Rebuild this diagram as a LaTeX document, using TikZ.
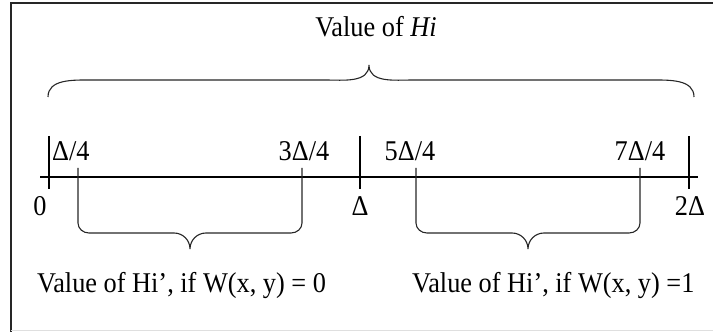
\documentclass[tikz,border=0pt]{standalone}
\usepackage{fontspec}
\setmainfont{Liberation Serif}[FakeStretch=0.92]
\usepackage{tikz}
\usetikzlibrary{positioning}

\begin{document}
\begin{tikzpicture}[x=1pt, y=1pt,
        lbl/.style={inner sep=0pt, font=\fontsize{28.6}{32}\selectfont},
        axis_line/.style={line width=1.3pt, black},
        brace_line/.style={line width=1.1pt, black!85},
        frame_line/.style={line width=2pt, black!85}
    ]
    \useasboundingbox (0,0) rectangle (713,332);

    % frame
    \draw[frame_line] (10.5,0) -- (10.5,328.5) -- (713,328.5);
    \draw[gray!25, line width=1pt] (10.5,1) -- (713,1);

    % positions on the line
    \coordinate (t0) at (49,155);
    \coordinate (q1) at (78,155);
    \coordinate (q3) at (302,155);
    \coordinate (t1) at (360,155);
    \coordinate (q5) at (416,155);
    \coordinate (q7) at (640,155);
    \coordinate (t2) at (689,155);

    % number line and main ticks
    \draw[axis_line] (40,155) -- (698,155);
    \foreach \t in {t0, t1, t2}
        \draw[axis_line] (\t) ++(0,41) -- ++(0,-53);

    % labels above
    \node[lbl, anchor=base west] (lq1) at (52,171.5) {Δ/4};
    \node[lbl, anchor=base] (lq3) at (304,171.5) {3Δ/4};
    \node[lbl, anchor=base] (lq5) at (410,171.5) {5Δ/4};
    \node[lbl, anchor=base] (lq7) at (640,171.5) {7Δ/4};

    % labels below
    \node[lbl, anchor=base] (lt0) at (40,116) {0};
    \node[lbl, anchor=base] (lt1) at (360,116) {Δ};
    \node[lbl, anchor=base] (lt2) at (690,116) {2Δ};

    % upper brace
    \draw[brace_line] (48,235) to[out=90,in=180] (90,252) -- (325,252)
        to[out=0,in=-90] (369,267) to[out=-90,in=180] (413,252) -- (652,252)
        to[out=0,in=90] (694,235);
    \node[lbl, anchor=base] (title) at (376,295) {Value of \textit{Hi}};

    % lower braces, the arms are the quarter ticks
    \foreach \a/\b in {78/302, 416/640} {
        \pgfmathsetmacro\m{(\a+\b)/2}
        \draw[brace_line] (\a,164) -- (\a,109) to[out=-90,in=180] (\a+11,99)
            -- (\m-16,99) to[out=0,in=90] (\m,83) to[out=90,in=180] (\m+16,99)
            -- (\b-11,99) to[out=0,in=-90] (\b,109) -- (\b,164);
    }
    \node[lbl, anchor=base west] (w0) at (37,39) {Value of Hi’, if W(x, y) = 0};
    \node[lbl, anchor=base west] (w1) at (412,39) {Value of Hi’, if W(x, y) =1};

\end{tikzpicture}
\end{document}
